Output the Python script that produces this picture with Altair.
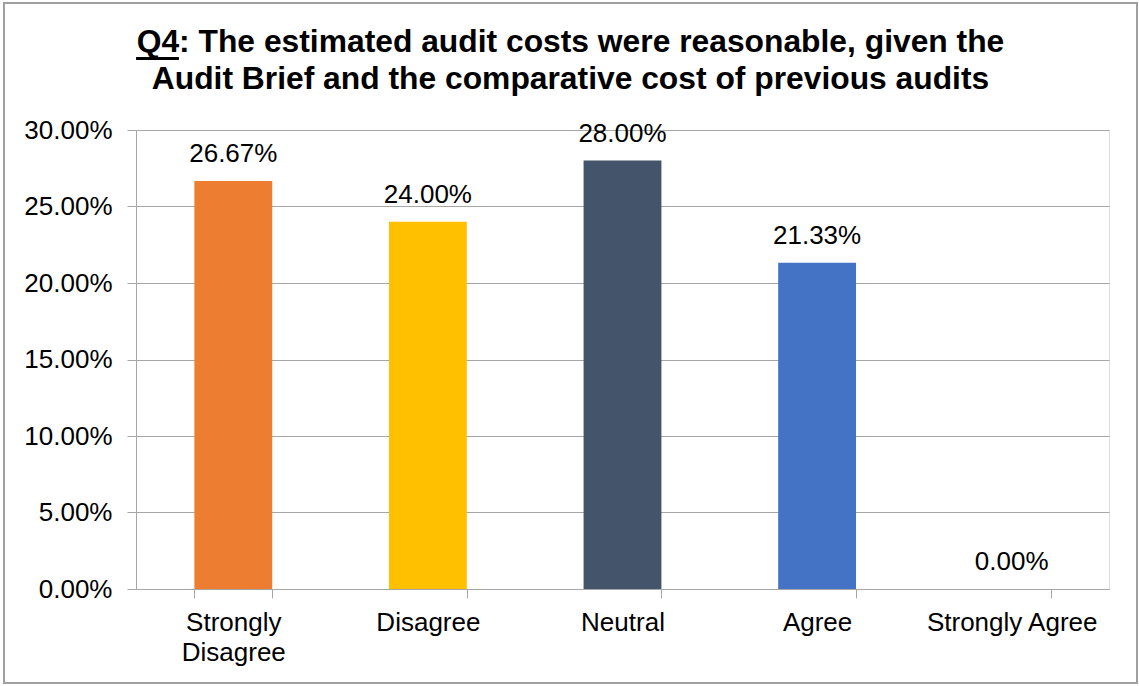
import altair as alt
import pandas as pd

categories = ["Strongly Disagree", "Disagree", "Neutral", "Agree", "Strongly Agree"]
values = [0.2667, 0.24, 0.28, 0.2133, 0.0]
colors = ["#ED7D31", "#FFC000", "#44546A", "#4472C4", "#5B9BD5"]
y_ticks = [0.0, 0.05, 0.10, 0.15, 0.20, 0.25, 0.30]

df = pd.DataFrame({"cat": categories, "val": values})

FONT = "Liberation Sans"
GRID = "#a6a6a6"
FS = 26

x_enc = alt.X(
    "cat:N",
    sort=categories,
    scale=alt.Scale(paddingInner=0.6, paddingOuter=0.3),
    axis=alt.Axis(
        title=None,
        labelAngle=0,
        labelFont=FONT,
        labelFontSize=FS,
        labelColor="#000000",
        labelPadding=11,
        labelLineHeight=30,
        labelExpr="datum.label == 'Strongly Disagree' ? ['Strongly', 'Disagree'] : datum.label",
        tickBand="extent",
        tickSize=9,
        tickColor=GRID,
        domainColor=GRID,
        grid=False,
    ),
)
y_enc = alt.Y(
    "val:Q",
    scale=alt.Scale(domain=[0, 0.30], nice=False),
    axis=alt.Axis(
        title=None,
        values=y_ticks,
        format=".2%",
        labelFont=FONT,
        labelFontSize=FS,
        labelColor="#000000",
        labelPadding=15,
        tickSize=9,
        tickColor=GRID,
        domainColor=GRID,
        gridColor=GRID,
        grid=True,
    ),
)

bars = alt.Chart(df).mark_bar().encode(
    x=x_enc,
    y=y_enc,
    color=alt.Color("cat:N", scale=alt.Scale(domain=categories, range=colors), legend=None),
)

labels = alt.Chart(df).mark_text(
    baseline="alphabetic", dy=-19, font=FONT, fontSize=FS, color="#000000"
).encode(
    x=alt.X("cat:N", sort=categories),
    y=alt.Y("val:Q"),
    text=alt.Text("val:Q", format=".2%"),
)

border = alt.Chart(df).mark_rect(fill=None, stroke="#a0a0a0", strokeWidth=1.5).encode(
    x=alt.value(-132), x2=alt.value(1001), y=alt.value(-127), y2=alt.value(553)
)

underline = alt.Chart(df).mark_rule(color="#000000", strokeWidth=2.5).encode(
    x=alt.value(0.5), x2=alt.value(42.5), y=alt.value(-71.5)
)

chart = alt.layer(border, bars, labels, underline).properties(
    width=973,
    height=459,
    padding={"left": 136, "top": 130, "right": 30, "bottom": 97},
    autosize=alt.AutoSizeParams(type="none"),
    title=alt.TitleParams(
        text=["Q4: The estimated audit costs were reasonable, given the",
              "Audit Brief and the comparative cost of previous audits"],
        font=FONT,
        fontSize=31.8,
        fontWeight="bold",
        color="#000000",
        anchor="middle",
        frame="group",
        baseline="alphabetic",
        dx=-52,
        lineHeight=37,
        offset=-119,
    ),
).configure_view(stroke=None).configure(background="#ffffff")

chart.save("out.html", embed_options={"renderer": "svg", "actions": False})
